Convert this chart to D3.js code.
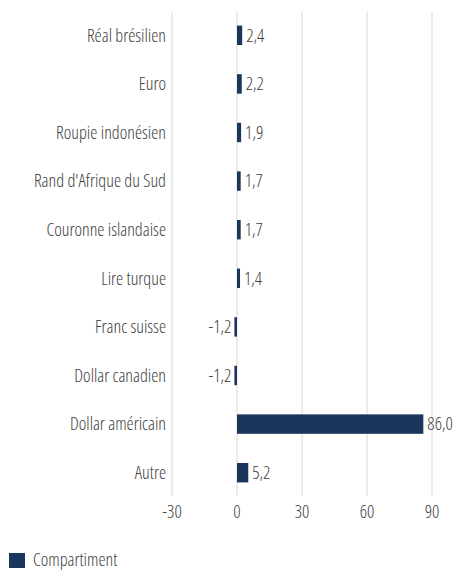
<!DOCTYPE html>
<html>
<head>
<meta charset="utf-8">
<script src="https://cdn.jsdelivr.net/npm/d3@7"></script>
<style>
  body { margin: 0; background: #fff; }
  text { font-family: "Open Sans", sans-serif; font-stretch: 75%; font-weight: 300; fill: #404040; }
</style>
</head>
<body>
<div id="chart"></div>
<script>
const categories = ["Réal brésilien", "Euro", "Roupie indonésien", "Rand d'Afrique du Sud",
  "Couronne islandaise", "Lire turque", "Franc suisse", "Dollar canadien", "Dollar américain", "Autre"];
const values = [2.4, 2.2, 1.9, 1.7, 1.7, 1.4, -1.2, -1.2, 86.0, 5.2];
const ticks = [-30, 0, 30, 60, 90];
const seriesName = "Compartiment";

const svgWidth = 454, svgHeight = 570;
const barColor = "#1b365d";
const fmt = v => v.toFixed(1).replace(".", ",");

const svg = d3.select("#chart").append("svg")
  .attr("width", svgWidth)
  .attr("height", svgHeight);

const x = d3.scaleLinear().domain([-30, 90]).range([172, 432]);
const y = d3.scaleBand().domain(categories).range([11, 497]).paddingInner(0.6).paddingOuter(0.3);

// gridlines
svg.selectAll(".grid").data(ticks).enter().append("line")
  .attr("x1", d => x(d)).attr("x2", d => x(d))
  .attr("y1", 12).attr("y2", 496)
  .attr("stroke", "#ebebeb").attr("stroke-width", 2);

// tick labels
svg.selectAll(".tick").data(ticks).enter().append("text")
  .attr("x", d => x(d)).attr("y", 518)
  .attr("text-anchor", "middle")
  .style("font-size", "18px")
  .text(d => d);

// category labels
svg.selectAll(".cat").data(categories).enter().append("text")
  .attr("x", 166).attr("y", d => y(d) + y.bandwidth() / 2)
  .attr("dy", "0.35em")
  .attr("text-anchor", "end")
  .style("font-size", "18px")
  .text(d => d);

// bars
svg.selectAll(".bar").data(values).enter().append("rect")
  .attr("x", d => x(Math.min(0, d)))
  .attr("y", (d, i) => y(categories[i]))
  .attr("width", d => Math.abs(x(d) - x(0)))
  .attr("height", y.bandwidth())
  .attr("fill", barColor);

// value labels
svg.selectAll(".val").data(values).enter().append("text")
  .attr("x", d => d < 0 ? x(d) - 3 : x(d) + 4)
  .attr("y", (d, i) => y(categories[i]) + y.bandwidth() / 2)
  .attr("dy", "0.35em")
  .attr("text-anchor", d => d < 0 ? "end" : "start")
  .style("font-size", "18px")
  .text(d => fmt(d));

// legend
svg.append("rect").attr("x", 9).attr("y", 553).attr("width", 16).attr("height", 15).attr("fill", barColor);
svg.append("text").attr("x", 33).attr("y", 566)
  .style("font-size", "18px").text(seriesName);
</script>
</body>
</html>
